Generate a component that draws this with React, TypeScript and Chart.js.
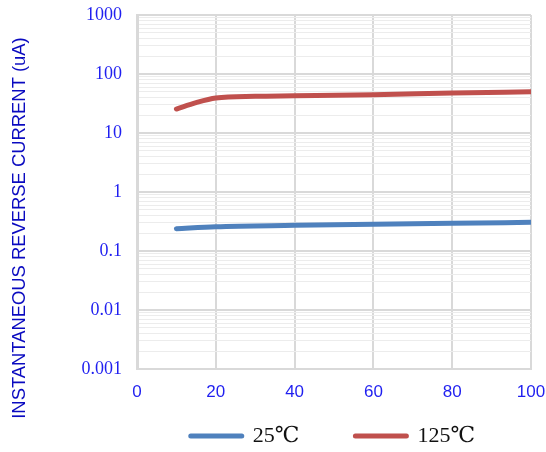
import React, { useEffect, useRef } from "react";
import { Chart, registerables } from "chart.js";

Chart.register(...registerables);

const x25 = [10, 20, 40, 60, 80, 100];
const current25 = [0.239, 0.258, 0.272, 0.284, 0.295, 0.306];
const x125 = [10, 15, 20, 30, 40, 60, 80, 100];
const current125 = [25.5, 32.8, 39.3, 42.0, 42.8, 44.6, 47.6, 50.1];
const seriesLabels = ["25℃", "125℃"];
const seriesColors = ["#4f81bd", "#c0504d"];

const xTicks = [0, 20, 40, 60, 80, 100];
const yTickValues = [0.001, 0.01, 0.1, 1, 10, 100, 1000];
const yTickLabels = ["0.001", "0.01", "0.1", "1", "10", "100", "1000"];
const yMinorMultipliers = [2, 3, 4, 5, 6, 7, 8, 9];
const yTitle = "INSTANTANEOUS REVERSE CURRENT (uA)";

const isMajor = (v: number) => {
  const l = Math.log10(v);
  return Math.abs(l - Math.round(l)) < 1e-9;
};

const yTitlePlugin = {
  id: "yTitlePlugin",
  afterLayout(chart: any) {
    // let the x tick labels draw below the (thin) axis box
    if (chart.scales.x) chart.scales.x.bottom = chart.height;
  },
  afterDraw(chart: any) {
    const { ctx } = chart;
    ctx.save();
    ctx.translate(20, 228);
    ctx.rotate(-Math.PI / 2);
    ctx.textAlign = "center";
    ctx.textBaseline = "middle";
    ctx.fillStyle = "#0a0ac0";
    ctx.font = "18.4px 'Liberation Sans', Arial, sans-serif";
    ctx.fillText(yTitle, 0, 0);
    ctx.restore();
  },
};

export default function App() {
  const ref = useRef<HTMLCanvasElement | null>(null);

  useEffect(() => {
    if (!ref.current) return;
    const chart = new Chart(ref.current, {
      type: "line",
      data: {
        datasets: [
          {
            label: seriesLabels[0],
            data: x25.map((x, i) => ({ x, y: current25[i] })),
            borderColor: seriesColors[0],
            backgroundColor: seriesColors[0],
            borderWidth: 5,
            borderCapStyle: "round",
            pointRadius: 0,
            cubicInterpolationMode: "monotone",
          },
          {
            label: seriesLabels[1],
            data: x125.map((x, i) => ({ x, y: current125[i] })),
            borderColor: seriesColors[1],
            backgroundColor: seriesColors[1],
            borderWidth: 5,
            borderCapStyle: "round",
            pointRadius: 0,
            cubicInterpolationMode: "monotone",
          },
        ],
      },
      options: {
        responsive: false,
        animation: false,
        layout: { padding: { top: 15, right: 15, left: 0, bottom: -5 } },
        plugins: {
          tooltip: { enabled: false },
          legend: {
            position: "bottom",
            align: "end",
            labels: {
              usePointStyle: true,
              pointStyle: "line",
              pointStyleWidth: 51,
              padding: 56,
              color: "#111",
              font: { family: "'Liberation Serif', 'DejaVu Serif', serif", size: 22 },
              generateLabels: (c: any) =>
                Chart.defaults.plugins.legend.labels
                  .generateLabels(c)
                  .map((l: any) => ({ ...l, lineCap: "round" })),
            },
          },
        },
        scales: {
          x: {
            type: "linear",
            min: 0,
            max: 100,
            afterBuildTicks: (scale: any) => {
              scale.ticks = xTicks.map((v) => ({ value: v }));
            },
            afterFit: (scale: any) => {
              scale.height = 0;
              scale.paddingLeft = 0;
              scale.paddingRight = 0;
            },
            ticks: {
              autoSkip: false,
              maxRotation: 0,
              padding: 13,
              color: "#1f1ff0",
              font: { family: "'Liberation Sans', Arial, sans-serif", size: 17 },
            },
            grid: { color: "#d9d9d9", lineWidth: 2, drawTicks: false },
            border: { color: "#d9d9d9", width: 2 },
          },
          y: {
            type: "logarithmic",
            min: 0.001,
            max: 1000,
            afterBuildTicks: (scale: any) => {
              const ticks: any[] = [];
              for (let i = 0; i < yTickValues.length; i++) {
                const base = yTickValues[i];
                ticks.push({ value: base, major: true });
                if (i < yTickValues.length - 1) {
                  yMinorMultipliers.forEach((m) => {
                    ticks.push({ value: parseFloat((base * m).toPrecision(6)), major: false });
                  });
                }
              }
              scale.ticks = ticks;
            },
            afterFit: (scale: any) => {
              scale.width = 137;
              scale.paddingTop = 0;
              scale.paddingBottom = 0;
            },
            ticks: {
              autoSkip: false,
              padding: 15,
              color: "#1f1ff0",
              font: { family: "'Liberation Serif', 'Times New Roman', serif", size: 18 },
              callback: (value: any) => {
                const idx = yTickValues.findIndex((v) => Math.abs(v - Number(value)) < v * 1e-6);
                return idx >= 0 ? yTickLabels[idx] : "";
              },
            },
            grid: {
              drawTicks: false,
              color: (ctx: any) => (ctx.tick && isMajor(ctx.tick.value) ? "#d9d9d9" : "#ececec"),
              lineWidth: (ctx: any) => (ctx.tick && isMajor(ctx.tick.value) ? 2 : 1),
            },
            border: { color: "#d9d9d9", width: 3 },
          },
        },
      } as any,
      plugins: [yTitlePlugin],
    });
    return () => chart.destroy();
  }, []);

  return (
    <div style={{ position: "absolute", left: 0, top: 0, width: 546, height: 452, background: "#fff" }}>
      <canvas ref={ref} width={546} height={452} style={{ display: "block" }} />
    </div>
  );
}
